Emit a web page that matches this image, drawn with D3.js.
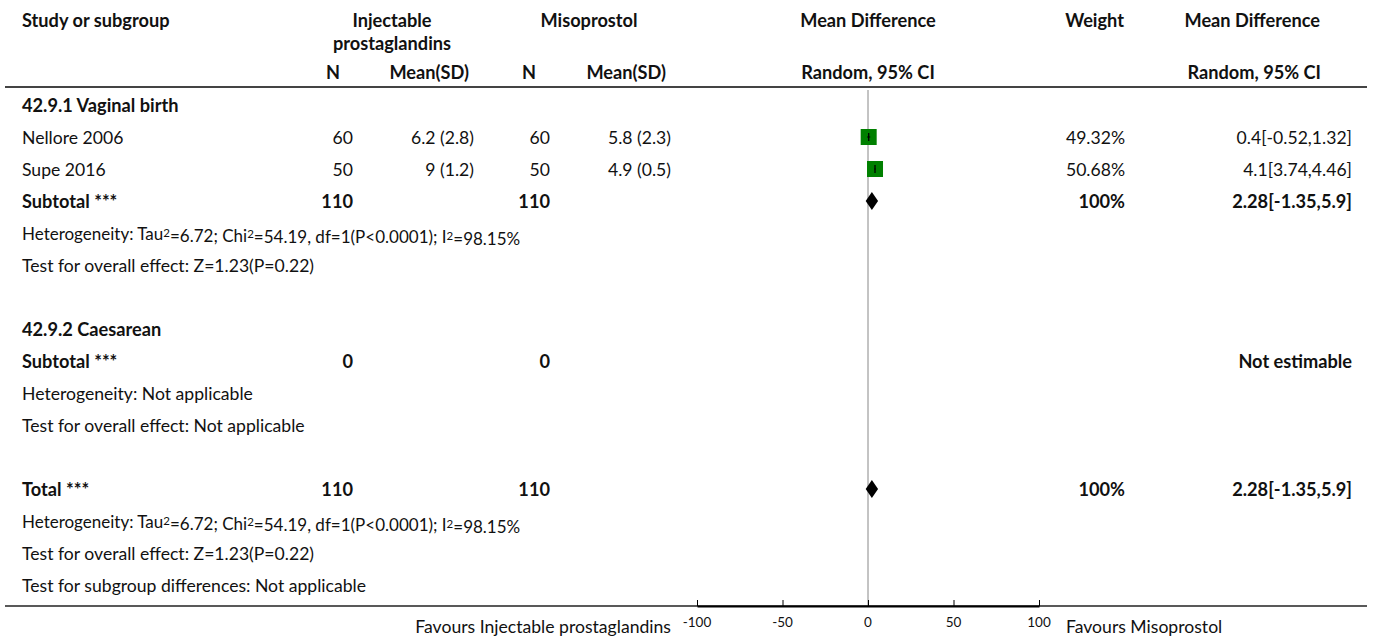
<!DOCTYPE html>
<html><head><meta charset="utf-8">
<script src="https://cdn.jsdelivr.net/npm/d3@7"></script>
<style>body{margin:0;background:#fff}svg{display:block}text{font-family:Lato,"Noto Sans",sans-serif;font-size:17.6px;fill:#111}</style>
</head><body>
<svg id="c" width="1375" height="637"></svg>
<script>
// ---- data ----
const studies = ["Nellore 2006", "Supe 2016"];
const n1 = [60, 50];
const mean1 = ["6.2 (2.8)", "9 (1.2)"];
const n2 = [60, 50];
const mean2 = ["5.8 (2.3)", "4.9 (0.5)"];
const md = [0.4, 4.1];
const lo = [-0.52, 3.74];
const hi = [1.32, 4.46];
const weights = ["49.32%", "50.68%"];
const ciText = ["0.4[-0.52,1.32]", "4.1[3.74,4.46]"];
const pooled = {md: 2.28, lo: -1.35, hi: 5.9};
const ticks = [-100, -50, 0, 50, 100];

const svg = d3.select("#c");
const x = d3.scaleLinear().domain([-100, 100]).range([697, 1039]);
const rowY = i => 106 + i * 32;

function t(txt, xp, y, opt = {}) {
  const el = svg.append("text").attr("x", xp).attr("y", y).attr("dy", "0.35em")
    .attr("text-anchor", opt.anchor || "start")
    .style("font-weight", opt.bold ? "700" : "400");
  if (opt.bold) el.style("font-size", "18.2px");
  el.text(txt);
  return el;
}
function het(el) {
  el.text(null).style("font-size", "17px");
  const parts = ["Heterogeneity: Tau", "2", "=6.72; Chi", "2", "=54.19, df=1(P<0.0001); I", "2", "=98.15%"];
  parts.forEach((p, i) => {
    const ts = el.append("tspan").text(p);
    if (i % 2 === 1) ts.attr("dy", "-0.3em").style("font-size", "11.5px");
    else if (i > 0) ts.attr("dy", "0.3em");
  });
}

// headers
const hb = {bold: true};
t("Study or subgroup", 22, 21, hb);
t("Injectable", 392, 21, {bold: true, anchor: "middle"});
t("prostaglandins", 392, 44, {bold: true, anchor: "middle"});
t("Misoprostol", 589, 21, {bold: true, anchor: "middle"});
t("Mean Difference", 868, 21, {bold: true, anchor: "middle"});
t("Weight", 1124, 21, {bold: true, anchor: "end"});
t("Mean Difference", 1320, 21, {bold: true, anchor: "end"});
t("N", 333, 73, {bold: true, anchor: "middle"});
t("Mean(SD)", 469, 73, {bold: true, anchor: "end"});
t("N", 529, 73, {bold: true, anchor: "middle"});
t("Mean(SD)", 666, 73, {bold: true, anchor: "end"});
t("Random, 95% CI", 868, 73, {bold: true, anchor: "middle"});
t("Random, 95% CI", 1321, 73, {bold: true, anchor: "end"});
svg.append("line").attr("x1", 5).attr("x2", 1367).attr("y1", 87).attr("y2", 87)
  .attr("stroke", "#444").attr("stroke-width", 2);

// zero line
svg.append("line").attr("x1", x(0)).attr("x2", x(0)).attr("y1", 90).attr("y2", 606)
  .attr("stroke", "#888").attr("stroke-width", 1);

// subgroup 1
t("42.9.1 Vaginal birth", 22, rowY(0), hb);
studies.forEach((s, i) => {
  const y = rowY(1 + i);
  t(s, 22, y);
  t(n1[i], 353, y, {anchor: "end"});
  t(mean1[i], 474, y, {anchor: "end"});
  t(n2[i], 550, y, {anchor: "end"});
  t(mean2[i], 671, y, {anchor: "end"});
  t(weights[i], 1125, y, {anchor: "end"});
  t(ciText[i], 1352, y, {anchor: "end"});
  const w = 16;
  svg.append("rect").attr("x", x(md[i]) - w / 2).attr("y", y - w / 2 - 1).attr("width", w).attr("height", w)
    .attr("fill", "#008000");
  svg.append("line").attr("x1", x(lo[i])).attr("x2", x(hi[i])).attr("y1", y - 1).attr("y2", y - 1)
    .attr("stroke", "#000").attr("stroke-width", 1);
  svg.append("line").attr("x1", x(md[i])).attr("x2", x(md[i])).attr("y1", y - 5).attr("y2", y + 3)
    .attr("stroke", "#000").attr("stroke-width", 1.3);
});
function diamond(y) {
  const pts = [[x(pooled.lo), y], [x(pooled.md), y - 9], [x(pooled.hi), y], [x(pooled.md), y + 9]];
  svg.append("path").attr("d", "M" + pts.join("L") + "Z").attr("fill", "#000");
}
let y = rowY(3);
t("Subtotal ***", 22, y, hb); t("110", 353, y, {bold: true, anchor: "end"});
t("110", 550, y, {bold: true, anchor: "end"});
t("100%", 1125, y, {bold: true, anchor: "end"});
t("2.28[-1.35,5.9]", 1352, y, {bold: true, anchor: "end"});
diamond(y - 1);
het(t("", 22, rowY(4)));
t("Test for overall effect: Z=1.23(P=0.22)", 22, rowY(5));

// subgroup 2
t("42.9.2 Caesarean", 22, rowY(7), hb);
y = rowY(8);
t("Subtotal ***", 22, y, hb); t("0", 353, y, {bold: true, anchor: "end"});
t("0", 550, y, {bold: true, anchor: "end"});
t("Not estimable", 1352, y, {bold: true, anchor: "end"});
t("Heterogeneity: Not applicable", 22, rowY(9));
t("Test for overall effect: Not applicable", 22, rowY(10));

// total
y = rowY(12);
t("Total ***", 22, y, hb); t("110", 353, y, {bold: true, anchor: "end"});
t("110", 550, y, {bold: true, anchor: "end"});
t("100%", 1125, y, {bold: true, anchor: "end"});
t("2.28[-1.35,5.9]", 1352, y, {bold: true, anchor: "end"});
diamond(y - 1);
het(t("", 22, rowY(13)));
t("Test for overall effect: Z=1.23(P=0.22)", 22, rowY(14));
t("Test for subgroup differences: Not applicable", 22, rowY(15));

// bottom line + axis
svg.append("line").attr("x1", 5).attr("x2", 1367).attr("y1", 606).attr("y2", 606)
  .attr("stroke", "#222").attr("stroke-width", 1.5);
const ax = svg.append("g").attr("transform", "translate(0,606)")
  .call(d3.axisTop(x).tickValues(ticks).tickSize(6).tickSizeOuter(0).tickFormat(""));
ax.select(".domain").attr("stroke", "#000").attr("stroke-width", 2);
ax.selectAll(".tick line").attr("stroke", "#000");
ticks.forEach(v => {
  svg.append("text").attr("x", x(v)).attr("y", 622).attr("dy", "0.35em").attr("text-anchor", "middle")
    .style("font-size", "13.5px").text(v);
});
t("Favours Injectable prostaglandins", 671, 627, {anchor: "end"});
t("Favours Misoprostol", 1066, 627);
</script>
</body></html>
